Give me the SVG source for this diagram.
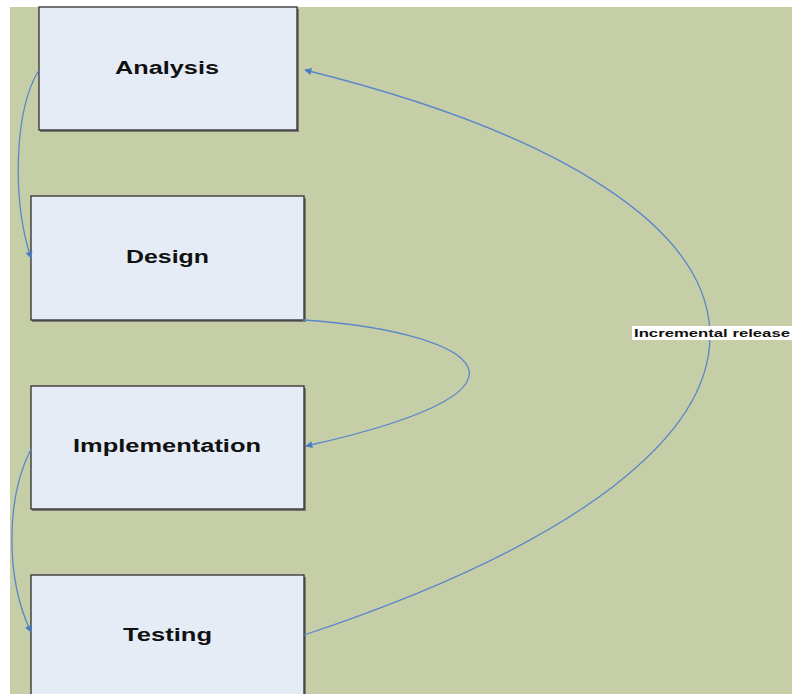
<svg xmlns="http://www.w3.org/2000/svg" width="797" height="694" viewBox="0 0 797 694">
<style>
.box{fill:#e6ecf6;stroke:#2e2e2e;stroke-width:1.3}
.sh{fill:#7a7a72}
.lbl{font-family:"Liberation Sans",Arial,sans-serif;font-weight:bold;font-size:18px;fill:#111;text-anchor:middle;dominant-baseline:central}
.edge{fill:none;stroke:#5a87c8;stroke-width:1.3}
.el{font-family:"Liberation Sans",Arial,sans-serif;font-weight:bold;font-size:11.5px;fill:#111;text-anchor:middle;dominant-baseline:central}
</style>
<defs>
<marker id="ah" viewBox="0 0 10 10" refX="9" refY="5" markerWidth="9" markerHeight="7" markerUnits="userSpaceOnUse" orient="auto">
<path d="M0,0 L10,5 L0,10 z" fill="#4a7cc4"/>
</marker>
</defs>
<rect x="0" y="0" width="797" height="694" fill="#ffffff"/>
<rect x="10" y="7" width="782" height="687" fill="#c6cea8"/>
<g id="analysis">
<rect class="sh" x="40" y="9" width="259" height="123"/>
<rect class="box" x="39" y="7" width="258" height="123"/>
<text class="lbl" x="167" y="68" textLength="104" lengthAdjust="spacingAndGlyphs">Analysis</text>
</g>
<g id="design">
<rect class="sh" x="32" y="198" width="274" height="124"/>
<rect class="box" x="31" y="196" width="273" height="124"/>
<text class="lbl" x="167.5" y="257" textLength="83" lengthAdjust="spacingAndGlyphs">Design</text>
</g>
<g id="implementation">
<rect class="sh" x="32" y="388" width="274" height="123"/>
<rect class="box" x="31" y="386" width="273" height="123"/>
<text class="lbl" x="167" y="446" textLength="188" lengthAdjust="spacingAndGlyphs">Implementation</text>
</g>
<g id="testing">
<rect class="sh" x="32" y="577" width="274" height="130"/>
<rect class="box" x="31" y="575" width="273" height="130"/>
<text class="lbl" x="167.5" y="635" textLength="89" lengthAdjust="spacingAndGlyphs">Testing</text>
</g>
<g id="connectors">
<path class="edge" d="M39,70 C14,110 12,200 31,258" marker-end="url(#ah)"/>
<path class="edge" d="M303,320 C460,330 580,385 306,446" marker-end="url(#ah)"/>
<path class="edge" d="M31,449 C5,500 6,580 31,632" marker-end="url(#ah)"/>
<path class="edge" d="M304,635 C860,450 830,200 305,70" marker-end="url(#ah)"/>
<rect x="632" y="326" width="160" height="14" fill="#ffffff"/>
<text class="el" x="712" y="333" textLength="156" lengthAdjust="spacingAndGlyphs">Incremental release</text>
</g>
</svg>
